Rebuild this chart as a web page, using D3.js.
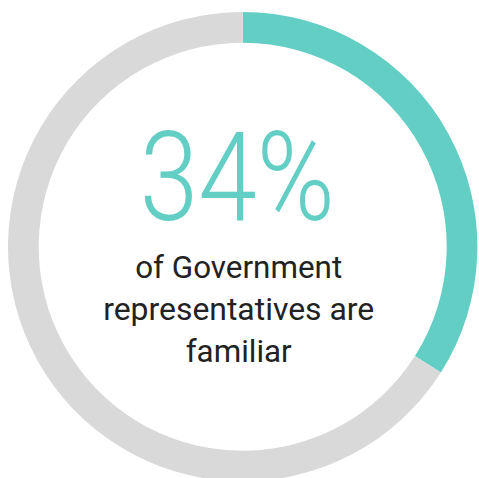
<!DOCTYPE html>
<html>
<head>
<meta charset="utf-8">
<script src="https://cdn.jsdelivr.net/npm/d3@7"></script>
<style>
  html, body { margin: 0; padding: 0; background: #fff; }
  svg { display: block; }
</style>
</head>
<body>
<svg id="chart" width="479" height="478"></svg>
<script>
// Share of Government representatives who are familiar
const categories = ["Familiar", "Not familiar"];
const values = [34, 66];
const headline = "34%";
const captionLines = ["of Government", "representatives are", "familiar"];
const colors = ["#62cec4", "#d9d9d9"];

const svg = d3.select("#chart");
const cx = 242.7, cy = 246.7;
const outerR = 234.7, innerR = 204;

const g = svg.append("g").attr("transform", `translate(${cx},${cy})`);

const pie = d3.pie().sort(null).value(d => d)(values);
const arc = d3.arc().innerRadius(innerR).outerRadius(outerR);
const color = d3.scaleOrdinal().domain(categories).range(colors);

g.selectAll("path.slice")
  .data(pie)
  .join("path")
  .attr("class", "slice")
  .attr("d", arc)
  .attr("fill", (d, i) => color(categories[i]));

// Big percentage figure
g.append("text")
  .text(headline)
  .attr("x", -5.5)
  .attr("y", 220 - cy)
  .attr("text-anchor", "middle")
  .attr("font-family", "Roboto, sans-serif")
  .attr("font-weight", 300)
  .attr("font-size", 124)
  .attr("textLength", 195)
  .attr("lengthAdjust", "spacingAndGlyphs")
  .attr("fill", colors[0]);

// Caption below
const capWidths = [207, 271, 106];
const capBase = [278.5, 320.5, 362.5];
g.selectAll("text.cap")
  .data(captionLines)
  .join("text")
  .attr("class", "cap")
  .text(d => d)
  .attr("x", -4)
  .attr("y", (d, i) => capBase[i] - cy)
  .attr("text-anchor", "middle")
  .attr("font-family", "Roboto, sans-serif")
  .attr("font-weight", 400)
  .attr("font-size", 32)
  .attr("textLength", (d, i) => capWidths[i])
  .attr("lengthAdjust", "spacingAndGlyphs")
  .attr("fill", "#222");
</script>
</body>
</html>
